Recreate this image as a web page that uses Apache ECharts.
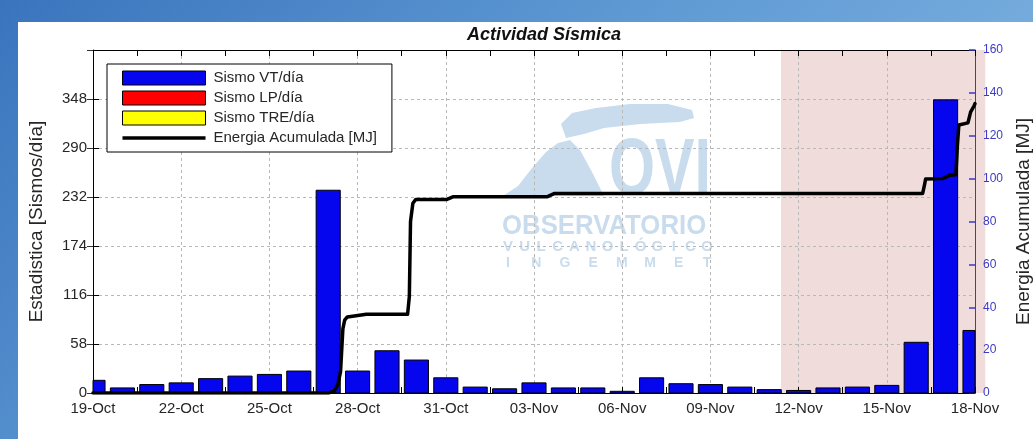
<!DOCTYPE html>
<html><head><meta charset="utf-8">
<script src="https://cdn.jsdelivr.net/npm/echarts@6/dist/echarts.min.js"></script>
<style>
html,body{margin:0;padding:0;width:1033px;height:439px;overflow:hidden;
 background:linear-gradient(135deg,#3a74bd 0%,#5f9ad4 45%,#8cbde6 100%);}
#paper{position:absolute;left:18px;top:22px;width:1015px;height:417px;background:#fff;}
#chart{position:absolute;left:0;top:0;width:1033px;height:439px;}
</style></head><body>
<div id="paper"></div><div id="chart"></div>
<script>
// ---- data ----
const dayLabels = ['19-Oct','20-Oct','21-Oct','22-Oct','23-Oct','24-Oct','25-Oct','26-Oct','27-Oct','28-Oct','29-Oct','30-Oct','31-Oct',
  '01-Nov','02-Nov','03-Nov','04-Nov','05-Nov','06-Nov','07-Nov','08-Nov','09-Nov','10-Nov','11-Nov','12-Nov','13-Nov','14-Nov','15-Nov','16-Nov','17-Nov','18-Nov'];
const xTickLabels = ['19-Oct','22-Oct','25-Oct','28-Oct','31-Oct','03-Nov','06-Nov','09-Nov','12-Nov','15-Nov','18-Nov'];
const vtPerDay  = [15,6,10,12,17,20,22,26,240,26,50,39,18,7,5,12,6,6,2,18,11,10,7,4,3,6,7,9,60,347,74];
const lpPerDay  = [0,0,0,0,0,0,0,0,0,0,0,0,0,0,0,0,0,0,0,0,0,0,0,0,0,0,0,0,0,0,0];
const trePerDay = [0,0,0,0,0,0,0,0,0,0,0,0,0,0,0,0,0,0,0,0,0,0,0,0,0,0,0,0,0,0,0];
// cumulative energy: time in days since 19-Oct, value in MJ
const energyDay = [0,8.0,8.2,8.33,8.42,8.46,8.5,8.56,8.65,9.3,10.7,10.76,10.8,10.88,10.98,12.04,12.24,15.44,15.7,28.22,28.28,28.32,28.9,29.15,29.35,29.4,29.45,29.5,29.76,29.85,29.97,30];
const energyMJ  = [0,0,0.8,4,10,20,30,34,35.5,36.7,36.7,45,80,88.5,90.3,90.3,91.5,91.5,93.1,93.1,97,99.8,100,101.6,101.8,115,125,125.7,126,131,134,135];
const leftTicksMax = 406, leftInterval = 58;
const rightMax = 160, rightInterval = 20;
const shadeStart = 23.4, shadeEnd = 30.35;
const barDays = 0.82;

const FONT = 'Liberation Sans, Arial, sans-serif';
const chart = echarts.init(document.getElementById('chart'), null, {renderer:'canvas'});
const stacks = [vtPerDay, lpPerDay, trePerDay];

// bars drawn through the axis scales and clipped to the plot area
function barRenderer(k, color) {
  return function (params, api) {
    const i = api.value(0), v = api.value(1);
    if (!v) return null;
    let base = 0; for (let s = 0; s < k; s++) base += stacks[s][i];
    const p0 = api.coord([i, base]), p1 = api.coord([i, base + v]);
    const w = api.size([barDays, 0])[0];
    const cs = params.coordSys;
    const xa = Math.max(p0[0] - w / 2, cs.x), xb = Math.min(p0[0] + w / 2, cs.x + cs.width);
    return {type:'rect', shape:{x:xa, y:p1[1], width:xb - xa, height:p0[1] - p1[1]},
      style:{fill:color, stroke:'#000', lineWidth:1}};
  };
}
const inTick = (c) => ({show:true, inside:false, length:-6, lineStyle:{color:c, width:1}});
const inMinor = () => ({show:true, splitNumber:2, length:-6, lineStyle:{color:'#000', width:1}});

chart.setOption({
  animation:false,
  backgroundColor:'transparent',
  title:{text:'Actividad Sísmica', left:462, top:21,
    textStyle:{fontFamily:FONT, fontSize:18, fontWeight:'bold', fontStyle:'italic', color:'#111'}},
  grid:{left:93, right:58, top:50, bottom:46, containLabel:false, outerBoundsMode:'none'},
  legend:{
    orient:'vertical', left:107, top:64, padding:[5,15,5,15],
    itemWidth:83, itemHeight:14, itemGap:2, icon:'rect',
    backgroundColor:'#fff', borderColor:'#000', borderWidth:1, borderRadius:0,
    textStyle:{fontFamily:FONT, fontSize:15, color:'#262626', lineHeight:18, padding:[0,0,0,3]},
    data:[
      {name:'Sismo VT/día', itemStyle:{color:'#0606ee', borderColor:'#000', borderWidth:1}},
      {name:'Sismo LP/día', itemStyle:{color:'#ff0000', borderColor:'#000', borderWidth:1}},
      {name:'Sismo TRE/día', itemStyle:{color:'#ffff00', borderColor:'#000', borderWidth:1}},
      {name:'Energia Acumulada [MJ]', icon:'path://M0,0 M0,14 M0,5.3 L83,5.3 L83,8.7 L0,8.7 Z',
       itemStyle:{color:'#000', borderWidth:0, opacity:1}}],
    z:20
  },
  xAxis:[
    {type:'value', min:0, max:30, interval:3, position:'bottom',
     axisLine:{show:true, onZero:false, lineStyle:{color:'#000', width:1}},
     axisTick:inTick('#000'), minorTick:inMinor(),
     axisLabel:{formatter:v=>xTickLabels[Math.round(v/3)], fontFamily:FONT, fontSize:15, color:'#262626', margin:8},
     splitLine:{show:true, lineStyle:{color:'#b8b8b8', width:1, type:[3,3]}}},
    {type:'value', min:0, max:30, interval:3, position:'top',
     axisLine:{show:true, onZero:false, lineStyle:{color:'#000', width:1}},
     axisTick:inTick('#000'), minorTick:inMinor(),
     axisLabel:{show:false}, splitLine:{show:false}}
  ],
  yAxis:[
    {type:'value', min:0, max:leftTicksMax, interval:leftInterval, position:'left',
     name:'Estadistica [Sismos/día]', nameLocation:'middle', nameGap:47, nameRotate:90,
     nameTextStyle:{fontFamily:FONT, fontSize:19, color:'#262626'},
     axisLine:{show:true, onZero:false, lineStyle:{color:'#000', width:1}},
     axisTick:inTick('#000'),
     axisLabel:{formatter:v=>v===leftTicksMax?'':String(v), fontFamily:FONT, fontSize:15, color:'#262626', margin:6},
     splitLine:{show:true, lineStyle:{color:'#b8b8b8', width:1, type:[3,3]}}},
    {type:'value', min:0, max:rightMax, interval:rightInterval, position:'right',
     name:'Energia Acumulada [MJ]', nameLocation:'middle', nameGap:37, nameRotate:90,
     nameTextStyle:{fontFamily:FONT, fontSize:19, color:'#262626'},
     axisLine:{show:true, onZero:false, lineStyle:{color:'#3b3bc6', width:1}},
     axisTick:{show:true, inside:true, length:6, lineStyle:{color:'#3b3bc6', width:1.5}},
     axisLabel:{fontFamily:FONT, fontSize:12, color:'#3b3bc6', margin:8},
     splitLine:{show:false}},
    {type:'value', min:0, max:leftTicksMax, interval:leftInterval, position:'right',
     axisLine:{show:false}, axisTick:inTick('#333'),
     axisLabel:{show:false}, splitLine:{show:false}}
  ],
  series:[
    {name:'Sismo VT/día', type:'custom', xAxisIndex:0, yAxisIndex:0, renderItem:barRenderer(0,'#0606ee'),
     itemStyle:{color:'#0606ee'}, encode:{x:0, y:1}, data:vtPerDay.map((v,i)=>[i,v]), z:3},
    {name:'Sismo LP/día', type:'custom', xAxisIndex:0, yAxisIndex:0, renderItem:barRenderer(1,'#ff0000'),
     itemStyle:{color:'#ff0000'}, encode:{x:0, y:1}, data:lpPerDay.map((v,i)=>[i,v]), z:3},
    {name:'Sismo TRE/día', type:'custom', xAxisIndex:0, yAxisIndex:0, renderItem:barRenderer(2,'#ffff00'),
     itemStyle:{color:'#ffff00'}, encode:{x:0, y:1}, data:trePerDay.map((v,i)=>[i,v]), z:3},
    {name:'Energia Acumulada [MJ]', type:'line', xAxisIndex:0, yAxisIndex:1,
     symbol:'none', showSymbol:false, smooth:false, color:'#000', clip:true,
     lineStyle:{color:'#000', width:3.5, join:'round', cap:'round'},
     data:energyDay.map((d,i)=>[d,energyMJ[i]]), z:6}
  ]
});

// shaded period and watermark (positions from the axes' scales)
const x0 = chart.convertToPixel({xAxisIndex:0}, shadeStart);
const x1 = chart.convertToPixel({xAxisIndex:0}, shadeEnd);
const yTop = chart.convertToPixel({yAxisIndex:0}, leftTicksMax);
const yBot = chart.convertToPixel({yAxisIndex:0}, 0);
const wm = '#c8dcee';
const g = [
  {type:'rect', id:'shade', z:-10, shape:{x:x0, y:yTop, width:x1-x0, height:yBot-yTop}, style:{fill:'#f0dcdb'}, silent:true},
  {type:'polygon', z:-5, silent:true, shape:{points:[[503,196],[518,186],[532,168],[546,152],[558,143],[570,140],[580,150],[592,172],[604,196]]}, style:{fill:wm}},
  {type:'polygon', z:-5, silent:true, shape:{points:[[566,138],[561,124],[572,113],[596,108],[630,104],[668,104],[692,110],[694,118],[680,122],[640,124],[604,128],[584,134]]}, style:{fill:wm}},
  {type:'text', z:-5, silent:true, x:609, y:132, scaleX:0.74, style:{text:'OVI', fill:wm, font:'bold 80px '+FONT}},
  {type:'text', z:-5, silent:true, x:502, y:212, scaleX:0.92, style:{text:'OBSERVATORIO', fill:wm, font:'bold 28px '+FONT}},
];
const spread = (str, y, size) => {
  const n = str.length, a = 508, b = 707;
  for (let i=0;i<n;i++) g.push({type:'text', z:-5, silent:true, x:a+(b-a)*i/(n-1), y:y,
    style:{text:str[i], fill:wm, font:'bold '+size+'px '+FONT, align:'center'}});
};
spread('VULCANOLÓGICO', 239, 15);
spread('INGEMMET', 256, 14);
chart.setOption({graphic:g});
</script>
</body></html>
